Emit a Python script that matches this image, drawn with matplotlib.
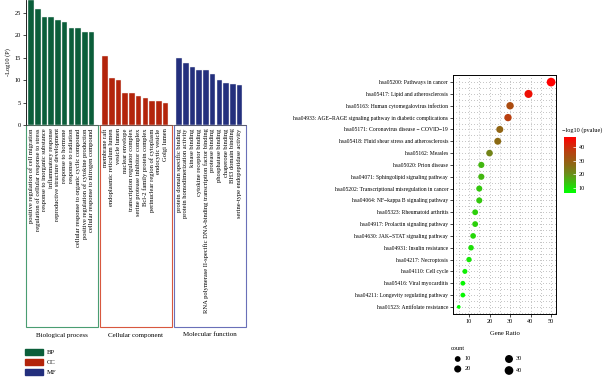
import numpy as np
import matplotlib
matplotlib.use("Agg")
import matplotlib.pyplot as plt
from matplotlib.patches import Rectangle
from matplotlib.colors import LinearSegmentedColormap, Normalize
from matplotlib.transforms import blended_transform_factory

plt.rcParams['font.family'] = ['Liberation Serif', 'DejaVu Serif']

# ---------------- GO enrichment bar data ----------------
bp_terms = ["positive regulation of cell migration",
            "regulation of cellular response to stress",
            "response to inorganic substance",
            "inflammatory response",
            "reproductive structure development",
            "response to hormone",
            "response to radiation",
            "cellular response to organic cyclic compound",
            "positive regulation of cytokine production",
            "cellular response to nitrogen compound"]
bp_vals = [27.8, 25.9, 24.1, 24.1, 23.3, 22.8, 21.6, 21.6, 20.7, 20.6]

cc_terms = ["membrane raft",
            "endoplasmic reticulum lumen",
            "vesicle lumen",
            "nuclear envelope",
            "transcription regulator complex",
            "serine protease inhibitor complex",
            "Bcl-2 family protein complex",
            "perinuclear region of cytoplasm",
            "endocytic vesicle",
            "Golgi lumen"]
cc_vals = [15.4, 10.4, 10.1, 7.2, 7.1, 6.4, 6.0, 5.4, 5.4, 5.0]

mf_terms = ["protein domain specific binding",
            "protein homodimerization activity",
            "kinase binding",
            "cytokine receptor binding",
            "RNA polymerase II-specific DNA-binding transcription factor binding",
            "protease binding",
            "phosphatase binding",
            "chaperone binding",
            "BH3 domain binding",
            "serine-type endopeptidase activity"]
mf_vals = [14.9, 13.8, 12.9, 12.3, 12.3, 11.4, 9.9, 9.4, 9.1, 8.9]

group_names = ["Biological process", "Cellular component", "Molecular function"]
group_keys = ["BP", "CC", "MF"]
y_ticks_bar = [0, 5, 10, 15, 20, 25]

# ---------------- KEGG dot data ----------------
kegg_terms = ["hsa05200: Pathways in cancer",
              "hsa05417: Lipid and atherosclerosis",
              "hsa05163: Human cytomegalovirus infection",
              "hsa04933: AGE\u2212RAGE signaling pathway in diabetic complications",
              "hsa05171: Coronavirus disease \u2212 COVID\u221219",
              "hsa05418: Fluid shear stress and atherosclerosis",
              "hsa05162: Measles",
              "hsa05020: Prion disease",
              "hsa04071: Sphingolipid signaling pathway",
              "hsa05202: Transcriptional misregulation in cancer",
              "hsa04064: NF\u2212kappa B signaling pathway",
              "hsa05323: Rheumatoid arthritis",
              "hsa04917: Prolactin signaling pathway",
              "hsa04630: JAK\u2212STAT signaling pathway",
              "hsa04931: Insulin resistance",
              "hsa04217: Necroptosis",
              "hsa04110: Cell cycle",
              "hsa05416: Viral myocarditis",
              "hsa04211: Longevity regulating pathway",
              "hsa01523: Antifolate resistance"]
kegg_count = [50, 39, 30, 29, 25, 24, 20, 16, 16, 15, 15, 13, 13, 12, 11, 10, 8, 7, 7, 5]
kegg_logp = [47.7, 45, 34, 37, 28, 27, 22, 15, 15, 13, 13, 12, 12, 11, 10, 9, 8, 7, 7, 6]
gr_ticks = [10, 20, 30, 40, 50]
cb_ticks = [10, 20, 30, 40]
size_legend = [10, 20, 30, 40]

W, H = 608, 377
fig = plt.figure(figsize=(W / 100, H / 100), dpi=100)

bar_colors = ["#0b5e3a", "#b3240b", "#232f7d"]
box_colors = ["#4a9d72", "#d8583f", "#6a70b8"]
fs = 4.6

# ---------------- bar panel ----------------
ax1 = fig.add_axes([26 / W, 1 - 125 / H, 220 / W, 125 / H])
groups = [(bp_terms, bp_vals), (cc_terms, cc_vals), (mf_terms, mf_vals)]
all_pos, all_labels = [], []
for g, (terms, vals) in enumerate(groups):
    pos = np.arange(len(vals)) + g * 11
    ax1.bar(pos, vals, width=0.82, color=bar_colors[g], edgecolor="#f2f2f2",
            linewidth=0.3, zorder=3)
    all_pos.extend(pos)
    all_labels.extend(terms)
ax1.set_xlim(-0.75, 31.95)
ax1.set_ylim(0, max(bp_vals))
ax1.set_xticks(all_pos)
ax1.set_xticklabels(all_labels, rotation=90, fontsize=4.7, va="top", ha="center")
ax1.tick_params(axis="x", length=0, pad=2.5)
ax1.set_yticks(y_ticks_bar)
ax1.set_yticklabels([str(t) for t in y_ticks_bar], fontsize=fs)
ax1.tick_params(axis="y", length=2, width=0.5, pad=1.5)
for s in ["top", "right"]:
    ax1.spines[s].set_visible(False)
ax1.spines["left"].set_linewidth(0.6)
ax1.spines["bottom"].set_linewidth(0.5)
ax1.spines["bottom"].set_color("#555555")
ax1.set_ylabel("-Log10 (P)", fontsize=fs, labelpad=3)

tr = blended_transform_factory(ax1.transData, ax1.transAxes)
box_bottom = -(327 - 125) / 125
for g in range(3):
    off = g * 11
    r = Rectangle((off - 0.72, box_bottom), 10.65, -box_bottom, transform=tr,
                  fill=False, edgecolor=box_colors[g], linewidth=0.8, clip_on=False)
    ax1.add_patch(r)
    ax1.text(off + 4.6, -(335 - 125) / 125, group_names[g], transform=tr,
             fontsize=5, ha="center", va="center")

# overlay axes in pixel coordinates for legends
ov = fig.add_axes([0, 0, 1, 1])
ov.set_xlim(0, W)
ov.set_ylim(H, 0)
ov.axis("off")
for g in range(3):
    yc = 352 + g * 10
    ov.add_patch(Rectangle((25, yc - 3), 18, 6, color=bar_colors[g]))
    ov.text(47, yc, group_keys[g], fontsize=4.8, va="center", ha="left")

# ---------------- dot panel ----------------
cmap = LinearSegmentedColormap.from_list(
    "gr", [(0, "#00ff00"), (0.34, "#6a8e1a"), (0.5, "#8b6a14"),
           (0.74, "#b8400f"), (1, "#ff0000")])
norm = Normalize(vmin=min(kegg_logp), vmax=max(kegg_logp))

cmin, cmax = min(kegg_count), max(kegg_count)
def dot_size(c):
    d = 3.7 + 5.0 * np.sqrt((np.asarray(c, float) - cmin) / (cmax - cmin))
    return (d * 0.72) ** 2

ax2 = fig.add_axes([453 / W, 1 - 314 / H, 103 / W, 239 / H])
ypos = np.arange(len(kegg_terms))
ax2.scatter(kegg_count, ypos, s=dot_size(kegg_count), c=kegg_logp, cmap=cmap,
            norm=norm, zorder=3, linewidths=0)
ax2.set_ylim(len(kegg_terms) - 0.4, -0.6)
ax2.set_xlim(2.2, 52.4)
ax2.set_yticks(ypos)
ax2.set_yticklabels(kegg_terms, fontsize=4.1)
ax2.set_xticks(gr_ticks)
ax2.set_xticklabels([str(t) for t in gr_ticks], fontsize=4.5)
ax2.set_xticks(np.arange(5, 55, 5), minor=True)
ax2.set_yticks(ypos + 0.5, minor=True)
ax2.tick_params(which="major", length=2, width=0.5, pad=1.5)
ax2.tick_params(which="minor", length=0)
ax2.grid(which="both", color="#6f6f6f", linestyle=(0, (0.8, 3.5)), linewidth=0.5)
ax2.set_axisbelow(True)
for s in ax2.spines.values():
    s.set_linewidth(0.7)
ax2.set_xlabel("Gene Ratio", fontsize=4.8, labelpad=5)

# colorbar
cax = fig.add_axes([564 / W, 1 - 193 / H, 11.7 / W, 56 / H])
sm = plt.cm.ScalarMappable(norm=norm, cmap=cmap)
cb = fig.colorbar(sm, cax=cax, ticks=cb_ticks)
cb.outline.set_visible(False)
cb.ax.tick_params(labelsize=4.5, length=2.5, width=0.5, color="white",
                  direction="in", pad=2)
ov.text(562, 130, "\u2212log10 (pvalue)", fontsize=4.5, ha="left", va="center")

# size legend
ov.text(451, 349, "count", fontsize=4.5, ha="left", va="center")
lx = [457.7, 457.7, 509, 509]
ly = [359, 369, 359, 370.5]
ov.scatter(lx, ly, s=dot_size(size_legend) * 1.15, color="black", linewidths=0)
for x, y, v in zip(lx, ly, size_legend):
    ov.text(x + 7, y, str(v), fontsize=4.5, ha="left", va="center")

fig.savefig("out.png", dpi=100)
